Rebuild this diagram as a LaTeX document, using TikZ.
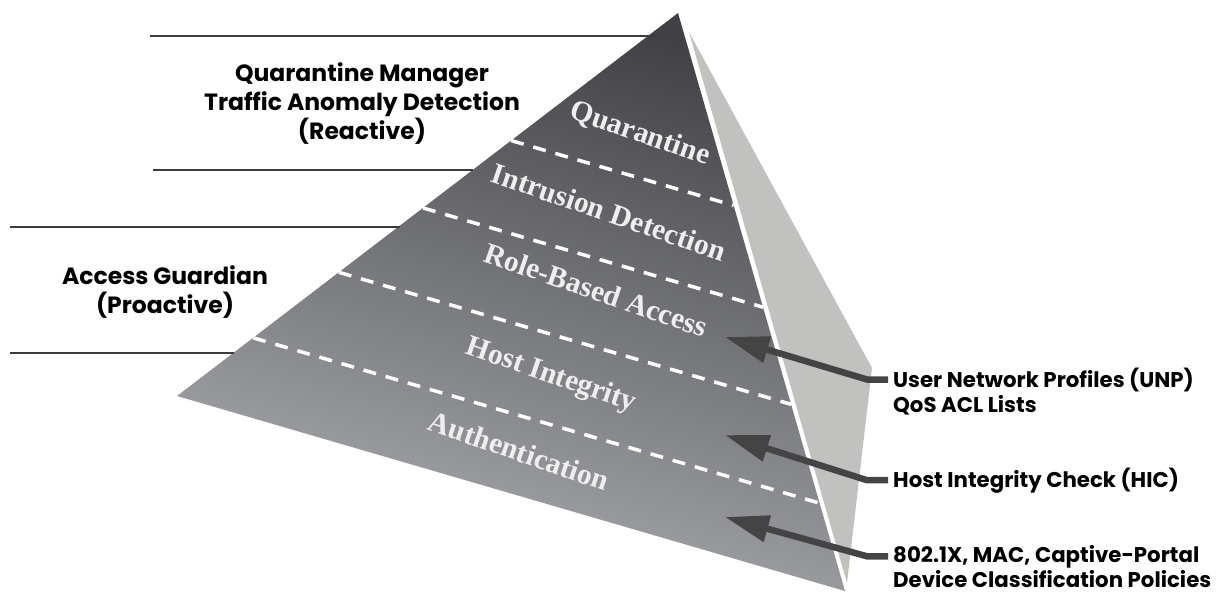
\documentclass[tikz,border=0pt]{standalone}
\usepackage{fontspec}
\usetikzlibrary{arrows.meta, calc}
\newfontfamily\geofont{Poppins}
\newfontfamily\romfont{Liberation Serif}
\definecolor{Ink}  {HTML}{3C3C3C}
\definecolor{ArrG} {HTML}{444444}
\definecolor{FaceT}{HTML}{414145}
\definecolor{FaceB}{HTML}{ACAEB1}
\definecolor{SideF}{HTML}{C1C1BF}
\definecolor{LyrW} {HTML}{EEEEEE}
\tikzset{
  lyr/.style={
    font={\fontsize{29.5}{29.5}\romfont\bfseries}, text=LyrW,
    rotate=-19, inner sep=0pt,
  },
  hdr/.style={
    font={\fontsize{23.5}{29}\geofont\bfseries},
    align=center, inner sep=0pt,
  },
  tag/.style={
    font={\fontsize{21.3}{25}\geofont\bfseries},
    anchor=base west, inner sep=0pt,
  },
  rule/.style={draw=Ink, line width=2.5pt},
  sep/.style={draw=white, line width=3.5pt, dash pattern=on 13pt off 10pt},
  arr/.style={
    -{Triangle[length=44pt,width=26pt]},
    line width=6.5pt, draw=ArrG,
  },
}

\begin{document}
\begin{tikzpicture}[x=1pt,y=-1pt]
    \useasboundingbox (0,0) rectangle (1220,592);
    % pyramid faces
    \coordinate (apex) at (678,13);
    \coordinate (bl)   at (177,396);
    \coordinate (br)   at (845,591);
    \shade[top color=FaceT, bottom color=FaceB, shading angle=-16]
      (apex) -- (bl) -- (br) -- cycle;
    \fill[SideF] (689,32) -- (872,368) -- (847,583) -- cycle;
    \foreach \t in {0.333,0.509,0.677,0.848}
      \draw[sep] ($(apex)!\t!(bl)$) -- ($(apex)!\t!(br)$);
    % brackets on the left
    \draw[rule] (150,36) -- (656,36);
    \draw[rule] (153,170) -- (473,170);
    \draw[rule] (10,227) -- (400,227);
    \draw[rule] (10,353) -- (234,353);
    \node[hdr] (qm) at (362,104) {Quarantine Manager\\Traffic Anomaly Detection\\(Reactive)};
    \node[hdr] (ag) at (165,292) {Access Guardian\\(Proactive)};
    % layers
    \node[lyr] (q)   at (640,134) {Quarantine};
    \node[lyr] (ids) at (609,212) {Intrusion Detection};
    \node[lyr] (rba) at (596,290) {Role-Based Access};
    \node[lyr] (hi)  at (551,376) {Host Integrity};
    \node[lyr] (au)  at (519,451) {Authentication};
    % mechanisms
    \node[tag] (unp) at (893,387) {User Network Profiles (UNP)};
    \node[tag] (qos) at (893,412) {QoS ACL Lists};
    \node[tag] (hic) at (893,487) {Host Integrity Check (HIC)};
    \node[tag] (dot) at (893,562) {802.1X, MAC, Captive-Portal};
    \node[tag] (dev) at (893,587) {Device Classification Policies};
    \coordinate (tA) at (725,337);
    \coordinate (tB) at (725,435);
    \coordinate (tC) at (725,517);
    \draw[arr] ([xshift=-5pt]unp.west) -- ++(-21,0) -- (tA);
    \draw[arr] ([xshift=-5pt]hic.west) -- ++(-21,0) -- (tB);
    \draw[arr] ([xshift=-5pt]dot.west) -- ++(-21,0) -- (tC);
\end{tikzpicture}
\end{document}
